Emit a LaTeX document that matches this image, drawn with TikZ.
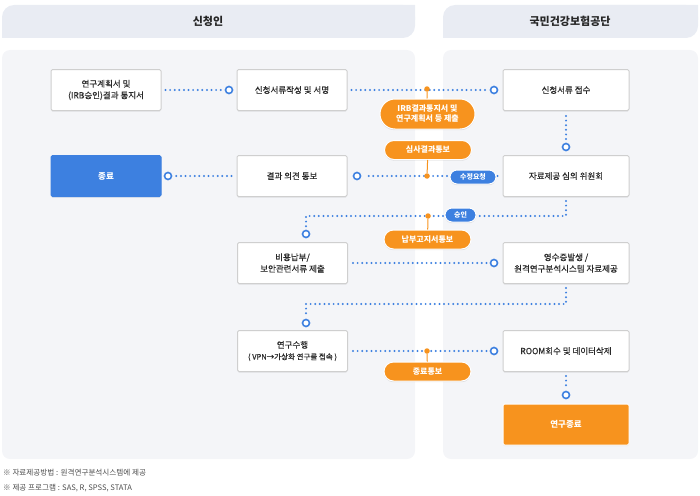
\documentclass[tikz,border=0pt]{standalone}
\usepackage{fontspec}
\setmainfont{Noto Sans CJK KR}
\newfontfamily\krmed{Noto Sans CJK KR}[FakeBold=0.35]
\usepackage{xcolor}
\usepackage{tikz}
\usetikzlibrary{positioning,calc,shapes.misc,shadows}
\definecolor{FlowBlue}{HTML}{3D80E0}
\definecolor{FlowOrange}{HTML}{F7931E}
\definecolor{PanelGray}{HTML}{F4F5F8}
\definecolor{HeadGray}{HTML}{E9ECF3}
\definecolor{LineGray}{HTML}{CFCFCF}
\definecolor{InkGray}{HTML}{2A2A2A}

\begin{document}
\begin{tikzpicture}[x=1pt,y=-1pt,
  every node/.style={font=\krmed\fontsize{8.5}{11.5}\selectfont,text=InkGray},
  box/.style={draw=LineGray,fill=white,line width=1pt,rounded corners=1.5pt,
    minimum width=110pt,minimum height=41pt,align=center,inner sep=2pt,
    drop shadow={shadow xshift=0pt,shadow yshift=-1.2pt,opacity=0.15}},
  widebox/.style={box,minimum width=126pt},
  dotline/.style={FlowBlue,line width=2.2pt,line cap=round,dash pattern=on 0pt off 4.6pt},
  ring/.style={circle,draw=FlowBlue,fill=white,line width=1.6pt,inner sep=0pt,minimum size=7pt},
  knot/.style={circle,fill=FlowOrange,inner sep=0pt,minimum size=5.5pt},
  stem/.style={FlowOrange,line width=1pt},
  bubble/.style={rounded rectangle,fill=FlowOrange,draw=white,line width=1pt,align=center,
    text=white,font=\bfseries\fontsize{8}{10}\selectfont,minimum width=89pt,minimum height=19pt,inner sep=1pt,
    drop shadow={shadow xshift=0pt,shadow yshift=-1.2pt,opacity=0.2}},
  tag/.style={bubble,fill=FlowBlue,minimum height=14pt,font=\bfseries\fontsize{7}{8}\selectfont},
  note/.style={anchor=west,text=black!70,font=\fontsize{7.6}{9}\selectfont,inner sep=0pt}]
\useasboundingbox (0,0) rectangle (700,495);

\fill[HeadGray,rounded corners=12pt] (2,5) rectangle (415,38);
\fill[HeadGray] (200,5) rectangle (415,20) (2,20) rectangle (200,38);
\fill[HeadGray,rounded corners=12pt] (443,5) rectangle (698,38);
\fill[HeadGray] (570,5) rectangle (698,20) (443,20) rectangle (570,38);
\node[font=\bfseries\fontsize{11}{13}\selectfont,text=black!85] (headL) at (208,21) {신청인};
\node[font=\bfseries\fontsize{11}{13}\selectfont,text=black!85] (headR) at (570,21) {국민건강보험공단};
\fill[PanelGray,rounded corners=8pt] (2,50) rectangle (415,459);
\fill[PanelGray,rounded corners=8pt] (443,50) rectangle (698,459);

\node[box] (plan) at (106,90) {연구계획서 및\\(IRB승인)결과 통지서};
\node[box] (apply) at (292,90) {신청서류작성 및 서명};
\node[widebox] (receive) at (566,90) {신청서류 접수};
\node[box,fill=FlowBlue,draw=FlowBlue,text=white,font=\bfseries\fontsize{8.5}{11}\selectfont] (stop) at (106,176) {종료};
\node[box] (result) at (292,176) {결과 의견 통보};
\node[widebox] (review) at (566,176) {자료제공 심의 위원회};
\node[box] (pay) at (292.5,263) {비용납부/\\보안관련서류 제출};
\node[widebox] (receipt) at (566,263) {영수증발생 /\\원격연구분석시스템 자료제공};
\node[box] (study) at (292.5,351) {연구수행\\{\fontsize{7.5}{10}\selectfont( VPN→가상화 연구를 접속 )}};
\node[widebox] (room) at (566,351) {ROOM회수 및 데이터삭제};
\node[widebox,fill=FlowOrange,draw=white,text=white,font=\bfseries\fontsize{8.5}{11}\selectfont] (finish) at (566,424.5) {연구종료};

\node[ring] (r1) at (229,90) {};
\node[ring] (r2) at (494,90) {};
\node[ring] (r3) at (566,147) {};
\node[ring] (r4) at (357,176) {};
\node[ring] (r5) at (168,176) {};
\node[ring] (r6) at (306,234) {};
\node[ring] (r7) at (494,263) {};
\node[ring] (r8) at (306,323) {};
\node[ring] (r9) at (494,351) {};
\node[ring] (r10) at (566,395) {};
\coordinate (bend1) at (306,216);
\coordinate (bend2) at (306,304);

\draw[dotline,shorten <=4pt,shorten >=3pt] (plan) -- (r1);
\draw[dotline,shorten <=4pt,shorten >=3pt] (apply) -- (r2);
\draw[dotline,shorten <=5pt,shorten >=3pt] (receive) -- (r3);
\draw[dotline,shorten <=5pt,shorten >=3pt] (review) -- (r4);
\draw[dotline,shorten <=5pt,shorten >=3pt] (result) -- (r5);
\draw[dotline,shorten <=4pt,shorten >=3pt] (review) |- (bend1) -- (r6);
\draw[dotline,shorten <=5pt,shorten >=3pt] (pay) -- (r7);
\draw[dotline,shorten <=4pt,shorten >=3pt] (receipt) |- (bend2) -- (r8);
\draw[dotline,shorten <=5pt,shorten >=3pt] (study) -- (r9);
\draw[dotline,shorten <=4pt,shorten >=3pt] (room) -- (r10);

\node[knot] (k1) at (427,89) {};
\node[knot] (k2) at (427,176) {};
\node[knot] (k3) at (428,216) {};
\node[knot] (k4) at (427,351) {};
\node[bubble,minimum width=97pt,minimum height=30pt] (submit) at (427.5,114) {IRB결과통지서 및\\연구계획서 등 제출};
\node[bubble] (notice) at (428,150) {심사결과통보};
\node[bubble] (bill) at (427.5,239.5) {납부고지서통보};
\node[bubble] (close) at (427.5,371.5) {종료통보};
\node[tag,minimum width=48pt] (revise) at (473,177) {수정요청};
\node[tag,minimum width=33pt] (approve) at (460.5,215) {승인};
\draw[stem] (k1) -- (submit);
\draw[stem] (k2) -- (notice);
\draw[stem] (k3) -- (bill);
\draw[stem] (k4) -- (close);

\node[note] (note1) at (3,473) {※ 자료제공방법 : 원격연구분석시스템에 제공};
\node[note] (note2) at (3,488) {※ 제공 프로그램 : SAS, R, SPSS, STATA};
\end{tikzpicture}
\end{document}
